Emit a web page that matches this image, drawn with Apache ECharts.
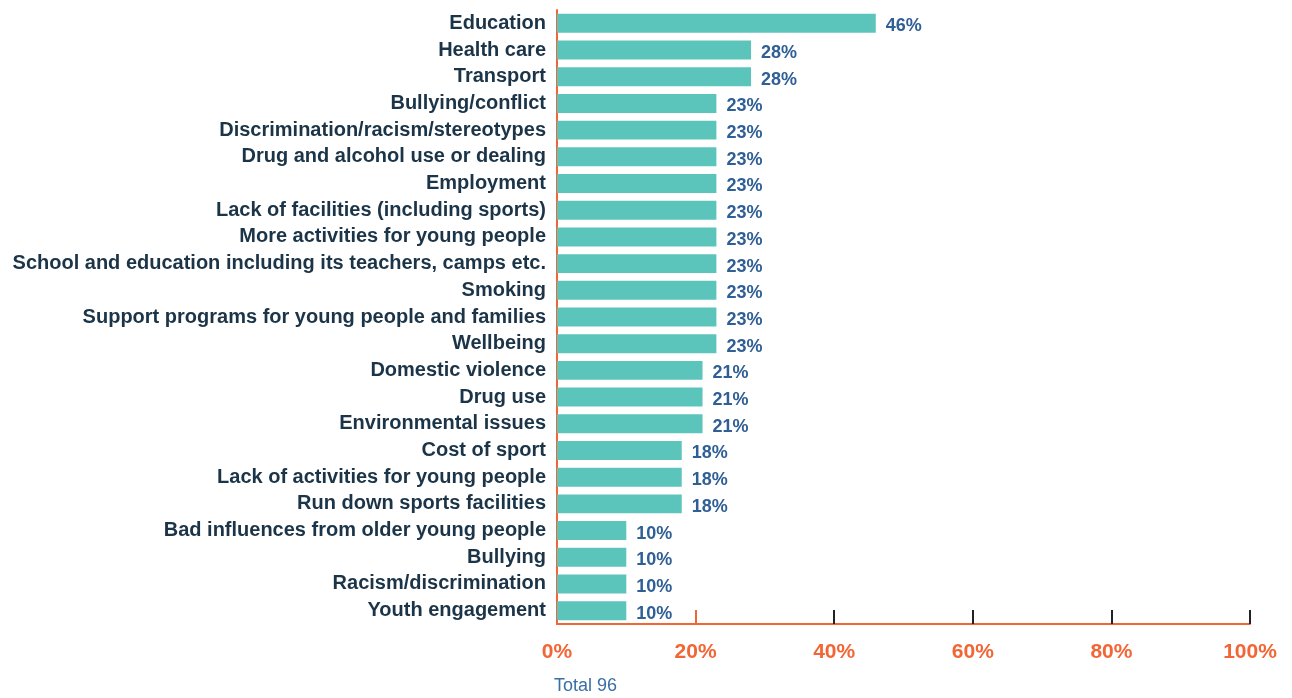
<!DOCTYPE html>
<html>
<head>
<meta charset="utf-8">
<script src="https://cdn.jsdelivr.net/npm/echarts@6/dist/echarts.min.js"></script>
<style>
html, body { margin: 0; padding: 0; background: #fff; }
#container { width: 1292px; height: 698px; }
</style>
</head>
<body>
<div id="container"></div>
<script>
var categories = ['Education', 'Health care', 'Transport', 'Bullying/conflict',
    'Discrimination/racism/stereotypes', 'Drug and alcohol use or dealing', 'Employment',
    'Lack of facilities (including sports)', 'More activities for young people',
    'School and education including its teachers, camps etc.', 'Smoking',
    'Support programs for young people and families', 'Wellbeing', 'Domestic violence',
    'Drug use', 'Environmental issues', 'Cost of sport', 'Lack of activities for young people',
    'Run down sports facilities', 'Bad influences from older young people', 'Bullying',
    'Racism/discrimination', 'Youth engagement'];
var values = [46, 28, 28, 23, 23, 23, 23, 23, 23, 23, 23, 23, 23, 21, 21, 21, 18, 18, 18, 10, 10, 10, 10];
var tickValues = [0, 20, 40, 60, 80, 100];
var totalText = 'Total 96';

var orange = '#F26535';
var font = 'Liberation Sans, Arial, sans-serif';
var dom = document.getElementById('container');
var myChart = echarts.init(dom);

var option = {
    animation: false,
    grid: { left: 557, top: 10, width: 693, height: 614 },
    xAxis: [{
        type: 'value', min: 0, max: 100, interval: 20,
        splitLine: { show: false },
        axisLine: { show: true, lineStyle: { color: orange, width: 2 } },
        axisTick: { show: true, inside: true, length: 14, customValues: [40, 60, 80, 100],
            lineStyle: { color: '#222', width: 2 } },
        axisLabel: {
            margin: 18, color: orange, fontSize: 21, fontWeight: 'bold',
            fontFamily: font,
            customValues: tickValues,
            formatter: '{value}%'
        }
    }, {
        // only the 20% tick is orange in the original
        type: 'value', min: 0, max: 100, position: 'bottom',
        splitLine: { show: false },
        axisLine: { show: false },
        axisLabel: { show: false },
        axisTick: { show: true, inside: true, length: 14, customValues: [20],
            lineStyle: { color: orange, width: 2 } }
    }],
    yAxis: {
        type: 'category',
        inverse: true,
        data: categories,
        axisLine: { show: true, lineStyle: { color: orange, width: 2 } },
        axisTick: { show: false },
        axisLabel: {
            margin: 11, color: '#1B3447', fontSize: 20, fontWeight: 'bold',
            fontFamily: font, padding: [3, 0, 0, 0]
        }
    },
    series: [{
        type: 'bar',
        data: values,
        barCategoryGap: '29%',
        itemStyle: { color: '#5CC5BB' },
        label: {
            show: true, position: 'right', distance: 10, offset: [0, 3],
            color: '#2F5F95', fontSize: 18, fontWeight: 'bold',
            fontFamily: font,
            formatter: '{c}%'
        }
    }],
    graphic: [{
        type: 'text', left: 554, top: 677,
        style: { text: totalText, fill: '#3A6EA5', fontSize: 18, fontFamily: font }
    }]
};

myChart.setOption(option, true);
</script>
</body>
</html>
